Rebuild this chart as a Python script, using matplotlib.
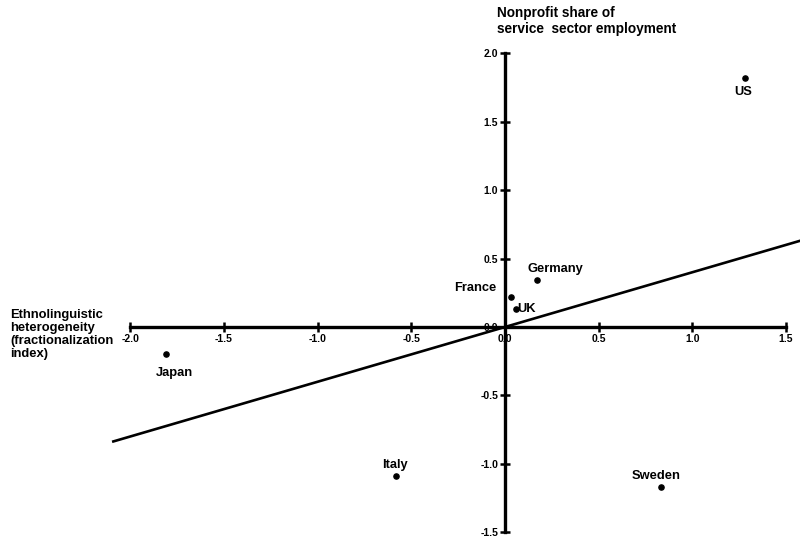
import matplotlib.pyplot as plt
import numpy as np

# country data
countries = ["US", "Japan", "France", "UK", "Germany", "Italy", "Sweden"]
heterogeneity = [1.28, -1.81, 0.03, 0.06, 0.17, -0.58, 0.83]
nonprofit_share = [1.82, -0.20, 0.22, 0.13, 0.34, -1.09, -1.17]

# fitted line
fit_slope = 0.40
fit_intercept = 0.0
fit_x = [-2.09, 1.6]

x_ticks = [-2.0, -1.5, -1.0, -0.5, 0.0, 0.5, 1.0, 1.5]
y_ticks = [-1.5, -1.0, -0.5, 0.0, 0.5, 1.0, 1.5, 2.0]

# label offsets in points (dx, dy, ha, va)
label_pos = {
    "US": (-8, -6, "left", "top"),
    "Japan": (-7, -9, "left", "top"),
    "France": (-10, 2, "right", "bottom"),
    "UK": (1, 0, "left", "center"),
    "Germany": (-7, 4, "left", "bottom"),
    "Italy": (-10, 4, "left", "bottom"),
    "Sweden": (-21, 4, "left", "bottom"),
}

plt.rcParams["font.family"] = ["Liberation Sans", "DejaVu Sans"]
plt.rcParams["font.weight"] = "bold"

fig = plt.figure(figsize=(8, 5.38), dpi=100)
ax = fig.add_axes([0, 0, 1, 1])
ax.set_xlim(-505 / 187.4, 295 / 187.4)
ax.set_ylim(-211 / 136.9, 327 / 136.9)
ax.patch.set_visible(False)

for side in ["top", "right"]:
    ax.spines[side].set_visible(False)
ax.spines["bottom"].set_position(("data", 0))
ax.spines["left"].set_position(("data", 0))
ax.spines["bottom"].set_bounds(-2.0, 1.5)
ax.spines["left"].set_bounds(-1.5, 2.0)
for side in ["bottom", "left"]:
    ax.spines[side].set_linewidth(2.4)

ax.set_xticks(x_ticks)
ax.set_yticks(y_ticks)
ax.set_xticklabels([f"{v:.1f}" for v in x_ticks])
ax.set_yticklabels([f"{v:.1f}" for v in y_ticks])
ax.tick_params(axis="both", direction="inout", length=7, width=1.8,
               labelsize=7.5, pad=1.5)
for lab in ax.get_xticklabels():
    lab.set_fontweight("bold")
for lab in ax.get_yticklabels():
    lab.set_fontweight("bold")

xs = np.array(fit_x)
ax.plot(xs, fit_slope * xs + fit_intercept, color="black", lw=1.9,
        clip_on=True)

ax.scatter(heterogeneity, nonprofit_share, s=14, color="black", zorder=3)
for name, x, y in zip(countries, heterogeneity, nonprofit_share):
    dx, dy, ha, va = label_pos[name]
    ax.annotate(name, (x, y), xytext=(dx, dy), textcoords="offset points",
                ha=ha, va=va, fontsize=9.3, fontweight="bold")

fig.text(497 / 800, 1 - 6 / 538, "Nonprofit share of\nservice  sector employment",
         ha="left", va="top", fontsize=9.8, fontweight="bold", linespacing=1.15)
fig.text(10 / 800, 1 - 309 / 538,
         "Ethnolinguistic\nheterogeneity\n(fractionalization\nindex)",
         ha="left", va="top", fontsize=9.4, fontweight="bold", linespacing=1.12)

fig.savefig("out.png", dpi=100)
